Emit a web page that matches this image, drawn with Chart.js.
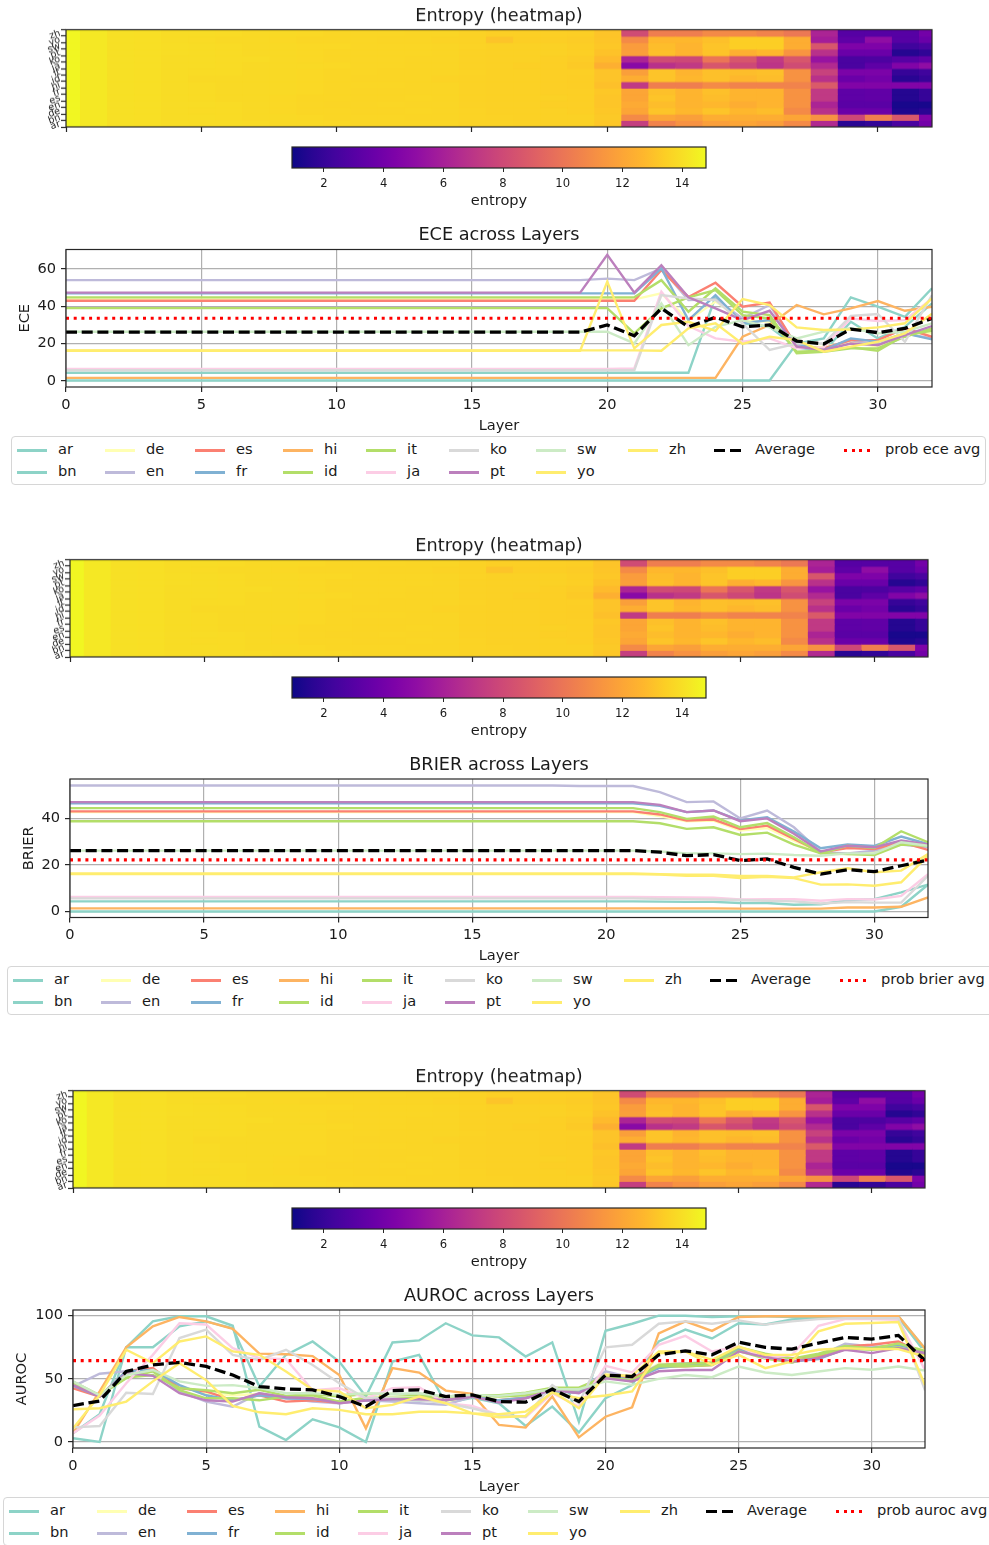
<!DOCTYPE html>
<html><head><meta charset="utf-8">
<script src="https://cdn.jsdelivr.net/npm/chart.js@4"></script>
<style>
html,body{margin:0;padding:0;background:#fff}
#page{position:relative;width:989px;height:1545px;overflow:hidden;font-family:"DejaVu Sans",sans-serif;color:#1a1a1a}
canvas{position:absolute;left:0}
.legend{position:absolute;box-sizing:border-box;border:1.4px solid #d6d6d6;border-radius:4px;background:#fff;height:49px}
.lg-h{position:absolute;width:30px;height:3px}
.lg-t{position:absolute;font-size:14.6px;line-height:18px;white-space:nowrap}
</style></head><body><div id="page"></div>
<script>
const layers=[0,1,2,3,4,5,6,7,8,9,10,11,12,13,14,15,16,17,18,19,20,21,22,23,24,25,26,27,28,29,30,31,32];
const langs=["ar","bn","de","en","es","fr","hi","id","it","ja","ko","pt","sw","yo","zh"];
const langColors=["#8dd3c7","#8dd3c7","#ffffb3","#bebada","#fb8072","#80b1d3","#fdb462","#b3de69","#b3de69","#fccde5","#d9d9d9","#bc80bd","#ccebc5","#ffed6f","#ffed6f"];

// Entropy per language, layers 0..32
const ent_ar=[14.7,14.3,14.05,14.0,13.95,13.9,13.9,13.85,13.8,13.8,13.75,13.7,13.7,13.7,13.7,13.6,13.6,13.55,13.5,13.5,13.2,7.45,10.6,11.2,11.75,12.0,11.75,10.9,6.5,1.6,1.9,2.6,4.0];
const ent_bn=[14.7,14.3,14.05,14.0,13.9,13.9,13.85,13.8,13.8,13.75,13.7,13.7,13.7,13.65,13.65,13.6,13.55,13.5,13.5,13.5,13.25,10.9,12.0,11.75,12.3,12.3,12.3,12.0,11.2,7.9,10.4,8.7,4.4];
const ent_de=[14.7,14.3,14.05,14.0,13.9,13.85,13.85,13.8,13.75,13.7,13.7,13.65,13.65,13.7,13.65,13.6,13.5,13.5,13.5,13.45,13.2,12.0,13.1,12.7,13.1,12.7,12.9,10.9,6.8,3.7,3.7,1.35,1.6];
const ent_en=[14.7,14.3,14.05,14.0,13.9,13.9,13.85,13.8,13.75,13.7,13.65,13.65,13.7,13.65,13.65,13.55,13.5,13.5,13.45,13.45,13.15,12.2,12.9,12.6,12.7,12.3,12.6,11.2,6.2,3.15,3.15,1.2,1.2];
const ent_es=[14.7,14.3,14.05,14.0,13.9,13.85,13.8,13.8,13.75,13.7,13.7,13.65,13.65,13.7,13.65,13.55,13.5,13.5,13.5,13.45,13.15,12.0,13.1,12.6,12.9,12.6,12.6,11.2,7.2,3.3,3.4,1.5,2.0];
const ent_fr=[14.7,14.3,14.05,14.0,13.9,13.85,13.8,13.8,13.8,13.75,13.7,13.65,13.65,13.65,13.65,13.55,13.5,13.5,13.45,13.45,13.2,12.0,13.0,12.6,13.0,12.6,12.6,11.2,7.2,3.3,3.4,1.5,2.0];
const ent_hi=[14.7,14.3,14.05,14.0,13.9,13.85,13.8,13.8,13.8,13.75,13.7,13.7,13.7,13.65,13.65,13.55,13.5,13.5,13.45,13.4,13.0,7.2,10.4,10.4,10.9,10.6,10.6,10.6,8.8,4.5,4.5,4.5,4.5];
const ent_id=[14.7,14.3,14.05,14.0,13.9,13.8,13.8,13.8,13.8,13.75,13.7,13.65,13.65,13.65,13.6,13.55,13.5,13.5,13.45,13.4,13.1,12.3,13.1,12.7,13.0,12.7,12.9,11.2,6.8,3.7,4.0,1.6,2.0];
const ent_it=[14.7,14.3,14.05,14.0,13.9,13.85,13.85,13.8,13.8,13.75,13.7,13.7,13.65,13.65,13.65,13.6,13.5,13.5,13.45,13.45,13.1,11.75,13.1,12.6,13.0,12.9,13.0,11.2,7.6,4.3,4.3,2.0,2.3];
const ent_ja=[14.7,14.3,14.05,14.0,13.9,13.9,13.85,13.8,13.8,13.8,13.75,13.7,13.7,13.65,13.65,13.55,13.5,13.45,13.45,13.3,12.4,4.8,6.8,7.2,8.6,7.9,7.0,8.1,6.5,2.6,3.3,4.5,5.1];
const ent_ko=[14.7,14.3,14.05,14.0,13.9,13.9,13.85,13.85,13.8,13.75,13.7,13.7,13.7,13.65,13.65,13.55,13.5,13.5,13.45,13.35,12.8,6.2,8.1,7.9,10.0,8.6,7.2,8.6,5.4,2.6,2.7,3.0,3.4];
const ent_pt=[14.7,14.3,14.05,14.0,13.95,13.9,13.85,13.8,13.8,13.75,13.7,13.7,13.7,13.7,13.65,13.55,13.5,13.5,13.5,13.45,13.05,11.75,13.0,12.6,13.1,12.4,12.7,11.3,6.8,3.7,3.7,1.5,1.8];
const ent_sw=[14.7,14.3,14.05,14.0,13.95,13.9,13.85,13.8,13.8,13.75,13.75,13.7,13.7,13.7,13.65,13.6,13.5,13.5,13.5,13.4,13.2,11.6,12.9,12.6,13.1,13.4,13.4,12.3,8.6,4.4,4.4,2.3,2.6];
const ent_yo=[14.7,14.3,14.05,14.0,13.9,13.85,13.8,13.8,13.75,13.7,13.7,13.7,13.65,13.65,13.6,13.55,13.1,13.4,13.4,13.35,13.15,10.9,12.7,12.7,13.0,13.4,13.4,12.3,5.9,3.3,5.1,3.0,3.7];
const ent_zh=[14.7,14.3,14.05,14.0,13.9,13.9,13.85,13.8,13.8,13.75,13.7,13.7,13.7,13.65,13.65,13.55,13.45,13.45,13.45,13.4,13.1,8.1,10.4,10.4,10.9,10.9,10.6,10.1,6.2,3.0,3.0,3.0,4.0];
const entropyRows=[ent_ar,ent_bn,ent_de,ent_en,ent_es,ent_fr,ent_hi,ent_id,ent_it,ent_ja,ent_ko,ent_pt,ent_sw,ent_yo,ent_zh];
const colorbarTicks=[2,4,6,8,10,12,14];
const entropyMin=0.93, entropyMax=14.8;

// ECE
const ece_ar=[4.4,4.4,4.4,4.4,4.4,4.4,4.4,4.4,4.4,4.4,4.4,4.4,4.4,4.4,4.4,4.4,4.4,4.4,4.4,4.4,4.4,4.4,4.4,4.4,45.1,30.9,29,18,15.7,31.7,22.8,29,41.6];
const ece_bn=[0.3,0.3,0.3,0.3,0.3,0.3,0.3,0.3,0.3,0.3,0.3,0.3,0.3,0.3,0.3,0.3,0.3,0.3,0.3,0.3,0.3,0.3,0.3,0.3,0.3,0.3,0.3,20.1,22.8,44.8,39.8,34.4,49.6];
const ece_de=[43.7,43.7,43.7,43.7,43.7,43.7,43.7,43.7,43.7,43.7,43.7,43.7,43.7,43.7,43.7,43.7,43.7,43.7,43.7,43.7,43.7,43.7,46.9,32.6,42.5,32.6,31.7,18,18.4,21,18.4,25.5,25.5];
const ece_en=[54,54,54,54,54,54,54,54,54,54,54,54,54,54,54,54,54,54,54,54,54.8,54,60.3,43.4,43.7,33.5,40.7,18.7,17.5,21.9,19.2,25.5,22.8];
const ece_es=[43,43,43,43,43,43,43,43,43,43,43,43,43,43,43,43,43,43,43,43,43,43,59.4,45,52.6,39.8,42,18.4,17.5,21.9,21.9,28.2,23.7];
const ece_fr=[46.9,46.9,46.9,46.9,46.9,46.9,46.9,46.9,46.9,46.9,46.9,46.9,46.9,46.9,46.9,46.9,46.9,46.9,46.9,46.9,46.9,46.9,60.3,32.6,46,30.9,32.6,20,16.6,22.8,21,25.5,22.3];
const ece_hi=[1.7,1.7,1.7,1.7,1.7,1.7,1.7,1.7,1.7,1.7,1.7,1.7,1.7,1.7,1.7,1.7,1.7,1.7,1.7,1.7,1.7,1.7,1.7,1.7,1.7,23.7,30,40.7,35.7,38.9,42.8,37.6,39.8];
const ece_id=[39,39,39,39,39,39,39,39,39,39,39,39,39,39,39,39,39,39,39,39,39,25.5,38.9,44.8,48.7,35.3,33.5,15.7,16.2,18,16.2,24.6,26.9];
const ece_it=[44.8,44.8,44.8,44.8,44.8,44.8,44.8,44.8,44.8,44.8,44.8,44.8,44.8,44.8,44.8,44.8,44.8,44.8,44.8,44.8,44.8,44.8,54,37.1,49.6,37.1,35.3,14.8,15.7,17.5,17.5,23.7,28.2];
const ece_ja=[6.4,6.4,6.4,6.4,6.4,6.4,6.4,6.4,6.4,6.4,6.4,6.4,6.4,6.4,6.4,6.4,6.4,6.4,6.4,6.4,6.4,6.7,47.8,29.4,22.8,21,22.8,17.5,18,33.5,32.1,32.6,44.2];
const ece_ko=[5.8,5.8,5.8,5.8,5.8,5.8,5.8,5.8,5.8,5.8,5.8,5.8,5.8,5.8,5.8,5.8,5.8,5.8,5.8,5.8,5.8,5.8,46,44.2,43.4,30.9,16.6,20.1,20.1,34.8,35.9,21,46];
const ece_pt=[47.3,47.3,47.3,47.3,47.3,47.3,47.3,47.3,47.3,47.3,47.3,47.3,47.3,47.3,47.3,47.3,47.3,47.3,47.3,47.3,67.5,47.3,62,44.8,38.9,32.6,37.6,18.4,16.6,20.1,19.2,24.6,29.4];
const ece_sw=[26.4,26.4,26.4,26.4,26.4,26.4,26.4,26.4,26.4,26.4,26.4,26.4,26.4,26.4,26.4,26.4,26.4,26.4,26.4,26.4,26.4,20.1,41.6,19.2,29,32.6,28.7,22.8,26.4,28.2,25.5,26.4,30.9];
const ece_yo=[16.2,16.2,16.2,16.2,16.2,16.2,16.2,16.2,16.2,16.2,16.2,16.2,16.2,16.2,16.2,16.2,16.2,16.2,16.2,16.2,53.2,17.5,30,31.7,26.9,43.9,40.7,28.7,27.3,27.6,28.7,30.9,44.2];
const ece_zh=[16.4,16.4,16.4,16.4,16.4,16.4,16.4,16.4,16.4,16.4,16.4,16.4,16.4,16.4,16.4,16.4,16.4,16.4,16.4,16.4,16.4,16.4,16.2,28.2,30.9,19.8,23.7,21.9,15.7,18.4,21,25.5,36];
const ece_avg=[26.2,26.2,26.2,26.2,26.2,26.2,26.2,26.2,26.2,26.2,26.2,26.2,26.2,26.2,26.2,26.2,26.2,26.2,26.2,26.2,30,24.2,38.9,29,34.1,29,30,21.4,19.8,27.8,25.9,28.2,33.5];
const ece_prob=33.6;
const eceTicks=[0,20,40,60];

// BRIER
const brier_ar=[4.4,4.4,4.4,4.4,4.4,4.4,4.4,4.4,4.4,4.4,4.4,4.4,4.4,4.4,4.4,4.4,4.4,4.4,4.4,4.4,4.4,4.4,4.3,4.2,4.2,3.7,3.7,3,3.2,5,5.4,8.3,11.6];
const brier_bn=[0.1,0.1,0.1,0.1,0.1,0.1,0.1,0.1,0.1,0.1,0.1,0.1,0.1,0.1,0.1,0.1,0.1,0.1,0.1,0.1,0.1,0.1,0.1,0.1,0.1,0.1,0.1,0.1,0.1,0.1,0.1,2.1,11.6];
const brier_de=[42.7,42.7,42.7,42.7,42.7,42.7,42.7,42.7,42.7,42.7,42.7,42.7,42.7,42.7,42.7,42.7,42.7,42.7,42.7,42.7,42.7,42.7,41,38.8,39.1,34.8,35.9,30.5,25.5,24.7,25.5,29.3,27.9];
const brier_en=[54.1,54.1,54.1,54.1,54.1,54.1,54.1,54.1,54.1,54.1,54.1,54.1,54.1,54.1,54.1,54.1,54.1,54.1,54.1,53.9,53.9,53.9,51.3,47,47.3,40,43.4,36.2,25.5,25,26.2,28.8,27.6];
const brier_es=[43,43,43,43,43,43,43,43,43,43,43,43,43,43,43,43,43,43,43,43,43,43,41.7,39.1,39.5,35.4,36.9,31.2,25.5,27.3,26.9,29.8,26.5];
const brier_fr=[46.5,46.5,46.5,46.5,46.5,46.5,46.5,46.5,46.5,46.5,46.5,46.5,46.5,46.5,46.5,46.5,46.5,46.5,46.5,46.5,46.5,46.5,45.4,42.7,43.4,39.1,40.5,34.4,27.2,28.8,28.2,32.2,29];
const brier_hi=[1.4,1.4,1.4,1.4,1.4,1.4,1.4,1.4,1.4,1.4,1.4,1.4,1.4,1.4,1.4,1.4,1.4,1.4,1.4,1.4,1.4,1.4,1.4,1.4,1.4,1.3,1.3,1.3,1.3,1.8,1.8,2.1,6.1];
const brier_id=[38.8,38.8,38.8,38.8,38.8,38.8,38.8,38.8,38.8,38.8,38.8,38.8,38.8,38.8,38.8,38.8,38.8,38.8,38.8,38.8,38.8,38.8,37.9,35.5,36.2,32.9,33.9,28.8,25,24.7,24.3,28.8,28.3];
const brier_it=[44.4,44.4,44.4,44.4,44.4,44.4,44.4,44.4,44.4,44.4,44.4,44.4,44.4,44.4,44.4,44.4,44.4,44.4,44.4,44.4,44.4,44.4,42.7,39.8,40.8,36.2,38,31.9,25,28.3,27.3,34.5,29.8];
const brier_ja=[6.3,6.3,6.3,6.3,6.3,6.3,6.3,6.3,6.3,6.3,6.3,6.3,6.3,6.3,6.3,6.3,6.3,6.3,6.3,6.3,6.3,6.3,6.2,6.1,6,5.2,5.4,5.3,4.7,5.4,5.2,6.8,16.1];
const brier_ko=[5.7,5.7,5.7,5.7,5.7,5.7,5.7,5.7,5.7,5.7,5.7,5.7,5.7,5.7,5.7,5.7,5.7,5.7,5.7,5.7,5.7,5.7,5.5,5.4,5.2,5,4.7,4.4,3.5,4.1,3.9,3.9,15.4];
const brier_pt=[47,47,47,47,47,47,47,47,47,47,47,47,47,47,47,47,47,47,47,47,47,47,45.8,42.7,43.4,38.8,40,33.4,25.8,28.3,27.6,30.5,28.8];
const brier_sw=[26.2,26.2,26.2,26.2,26.2,26.2,26.2,26.2,26.2,26.2,26.2,26.2,26.2,26.2,26.2,26.2,26.2,26.2,26.2,26.2,26.2,26.2,25.8,25,25,24.7,24.9,24.3,24,25,25,29.8,28.3];
const brier_yo=[16.1,16.1,16.1,16.1,16.1,16.1,16.1,16.1,16.1,16.1,16.1,16.1,16.1,16.1,16.1,16.1,16.1,16.1,16.1,16.1,16.1,16.1,15.9,15.4,15.4,14.4,15,14.4,11.6,11.7,11.1,12.6,24];
const brier_zh=[16.4,16.4,16.4,16.4,16.4,16.4,16.4,16.4,16.4,16.4,16.4,16.4,16.4,16.4,16.4,16.4,16.4,16.4,16.4,16.4,16.4,16.4,16.1,15.9,15.9,15.3,15.3,14.7,16.9,18.6,16.9,17.6,24.7];
const brier_avg=[26.2,26.2,26.2,26.2,26.2,26.2,26.2,26.2,26.2,26.2,26.2,26.2,26.2,26.2,26.2,26.2,26.2,26.2,26.2,26.2,26.2,26.2,25.5,24,24.5,21.9,22.6,19,16.1,18,17.2,19.7,22.2];
const brier_prob=22.2;
const brierTicks=[0,20,40];

// AUROC
const auroc_ar=[7,22,75,75,91.5,95.5,90,44,69,79.6,63.7,36,78.8,80.4,94,84.4,82.8,67.7,78.8,16,88,93.6,100,100,99,99.5,99.5,99,99,99.5,99.5,99.5,74];
const auroc_bn=[3,0,75,95.5,99.5,99.5,92,12.2,1.6,18,11.6,0,63.7,69,30.7,35,30.7,12.7,28,7.6,34.6,45,79.6,89,82,94,93,97,98.5,99,99,98.5,71];
const auroc_de=[46,37,55,57,44,38,37,38,36,35,32,33,33,33,32,36,33,35,41,39,54,50,62,62,63,72,68,63,69,75,74,76,73];
const auroc_en=[44,54,56,56,40,32,28,38.6,34.6,32,30.7,33,32,30.7,29.4,36,32,34.6,41.3,40,56,51,61,62.4,63,74,69,63,68,77.8,75.6,75.6,70];
const auroc_es=[42.6,36,56,58.5,42.6,40,33,37,32,33,31,34,34.7,34,33,36,33,35,41,39,53,50.5,60,60,61,73,69,66.4,67.7,75.6,77,79.6,69];
const auroc_fr=[44.5,36,56,57,45,37,33,37,34.6,34,32,33,34,33,33,36,33,35,40,39,53,49,58.5,61,62.4,73,66.4,63.7,65.6,73.5,74.3,77,71.7];
const auroc_hi=[7,40,75,91.5,99,95.5,89.5,70,69.5,68,53,10.8,58.5,55,40.7,38,13.5,11.4,36,3.7,20,27.5,86,95.5,88,99,99.5,99.5,99.5,99.5,99.5,99.5,74];
const auroc_id=[47,37,50.5,56,41,34.6,34.6,33,36,37,32,35,35,35,36,37,36,37,42,42,51,49,60,60,61,72,66,63,69,74,73,75,68];
const auroc_it=[47.8,37,51,53,42.6,41,38.6,41.3,36.5,38,36,38,38,37,36,37,37,39,43,43,52,48,61,62,63,75,70,66,70,76,74,78,72];
const auroc_ja=[7,21,46.5,69,94,93,74.3,66.4,65.6,41,42.6,34.6,42.6,43.4,30.7,28.6,21.4,19.6,38.6,28,60.3,55,77,84,71.7,75.6,66.4,69,92,97.3,97.3,96.8,57];
const auroc_ko=[11.6,12.7,39,38,82.3,88.9,69,65,73,61,46.5,34.6,34.6,33.3,30.7,26.7,21.4,20,45,30.7,75,77,93.6,95.5,93.6,96.3,92.9,95.5,97.3,98,98,98,41];
const auroc_pt=[45,36,54.5,52.4,38.6,33,32,38.6,35.4,34.6,30.7,32.8,33.8,33.8,33.3,36,31.2,34.6,41.3,38.6,50.5,47.9,56,57,57,71.7,67.2,63.7,66.4,73,70.4,74.3,70.4];
const auroc_sw=[48,37,53,57,48,44.4,45,42.6,38.6,38.6,37.3,38.6,38,38.6,36,37.3,36.5,38.6,41.8,41.8,48,45.2,50,53,51.3,59.8,55,53,55.8,58.5,57.2,59.8,56.6];
const auroc_yo=[25.9,26.7,32,48,62.4,49,28.6,23.5,22,26.7,25.4,22,22,24,24,22.7,22,24,39,34.6,36.8,40,70.3,71.7,61,69,58.5,63.7,87.6,93.6,94.2,95,45];
const auroc_zh=[10.8,37,73,62.4,79.6,83.6,71.7,69,55.8,41.3,40,26.7,29.4,36,30.7,22.7,19.6,20.6,40,26.7,53,52.4,71.7,71.7,65,75.6,69,69,73,74.3,73.5,73.5,67.7];
const auroc_avg=[28.8,32.5,55.8,61,63,59.8,53,43.9,42,41.3,36,28,40.7,41.3,36,37.3,32,31.5,41.8,32,53,51.8,69,72.2,69,79,74.9,73.5,78.3,82.8,81.5,84.4,64.5];
const auroc_prob=64.5;
const aurocTicks=[0,50,100];

const eceSeries=[ece_ar,ece_bn,ece_de,ece_en,ece_es,ece_fr,ece_hi,ece_id,ece_it,ece_ja,ece_ko,ece_pt,ece_sw,ece_yo,ece_zh];
const brierSeries=[brier_ar,brier_bn,brier_de,brier_en,brier_es,brier_fr,brier_hi,brier_id,brier_it,brier_ja,brier_ko,brier_pt,brier_sw,brier_yo,brier_zh];
const aurocSeries=[auroc_ar,auroc_bn,auroc_de,auroc_en,auroc_es,auroc_fr,auroc_hi,auroc_id,auroc_it,auroc_ja,auroc_ko,auroc_pt,auroc_sw,auroc_yo,auroc_zh];

// ---- styling / rendering ----
const FONT='"DejaVu Sans", sans-serif';
const INK='#1a1a1a', SPINE='#262626', GRID='#b0b0b0';
const TITLE_PX=17.7, LABEL_PX=14.6;
const plasmaStops=['#0d0887','#2a0593','#41049d','#5601a4','#6a00a8','#7e03a8','#8f0da4','#a11b9b','#b12a90','#bf3984','#cc4778','#d6556d','#e16462','#ea7457','#f1844b','#f89540','#fca636','#feb72d','#fcce25','#f7e225','#f0f921'];
function hex2rgb(h){return [1,3,5].map(i=>parseInt(h.substr(i,2),16));}
function plasma(t){t=Math.max(0,Math.min(1,t));const p=t*(plasmaStops.length-1),i=Math.min(Math.floor(p),plasmaStops.length-2),f=p-i;
  const a=hex2rgb(plasmaStops[i]),b=hex2rgb(plasmaStops[i+1]);return `rgb(${a.map((v,k)=>Math.round(v+(b[k]-v)*f)).join(',')})`;}
const entropyColor=v=>plasma((v-entropyMin)/(entropyMax-entropyMin));
const frame={id:'frame',afterDraw(c){const a=c.chartArea,x=c.ctx;x.save();x.strokeStyle=SPINE;x.lineWidth=1.2;x.strokeRect(a.left,a.top,a.right-a.left,a.bottom-a.top);x.restore();}};
const page=document.getElementById('page');
function addCanvas(top,h){const c=document.createElement('canvas');c.width=989;c.height=h;c.style.top=top+'px';c.style.width='989px';c.style.height=h+'px';page.appendChild(c);return c;}
const fixW=w=>s=>{s.width=w;}, fixH=h=>s=>{s.height=h;};
const titleOpts=(text,pad)=>({display:true,text,fullSize:false,color:INK,font:{family:FONT,size:TITLE_PX,weight:'normal',lineHeight:1.2},padding:{top:0,bottom:pad}});

function heatmap(g){
  const titleH=TITLE_PX*1.2, cTop=g.titleY-Math.round(titleH/2), xH=10, h=g.bottom-cTop+xH;
  const c=addCanvas(cTop,h);
  const datasets=layers.map((l,k)=>({label:'Layer '+l,
    data:langs.map(()=>[l-0.5,l+0.5]),
    backgroundColor:entropyRows.map(r=>entropyColor(r[k])),
    borderWidth:0,inflateAmount:0.5,barPercentage:1,categoryPercentage:1,grouped:false}));
  new Chart(c,{type:'bar',data:{labels:langs,datasets},plugins:[frame],options:{
    responsive:false,animation:false,indexAxis:'y',
    layout:{padding:{left:g.left-32,right:989-g.right,top:0,bottom:0}},
    plugins:{legend:{display:false},tooltip:{enabled:false},title:titleOpts('Entropy (heatmap)',g.top-cTop-titleH)},
    scales:{
      x:{type:'linear',min:0,max:32,afterFit:fixH(xH),grid:{display:true,drawOnChartArea:false,tickLength:5,tickColor:SPINE,tickWidth:1.2},border:{display:false},
         ticks:{stepSize:5,includeBounds:false,callback:()=>'',font:{size:1},padding:0}},
      y:{type:'category',reverse:true,offset:true,afterFit:fixW(32),grid:{display:true,drawOnChartArea:false,tickLength:5,tickColor:SPINE,tickWidth:1.2},border:{display:false},
         ticks:{autoSkip:false,minRotation:20,maxRotation:20,padding:1,color:INK,font:{family:FONT,size:9.6}}}
    }}});
}
function colorbar(top){
  const bottom=top+21, cTop=top-1, xH=42, h=bottom-cTop+xH;
  const c=addCanvas(cTop,h);
  new Chart(c,{type:'bar',data:{labels:['entropy'],datasets:[{label:'entropy',data:[[entropyMin,entropyMax]],borderWidth:0,barPercentage:1,categoryPercentage:1,
    backgroundColor(ctx){const a=ctx.chart.chartArea;if(!a)return '#888';const g=ctx.chart.ctx.createLinearGradient(a.left,0,a.right,0);plasmaStops.forEach((s,i)=>g.addColorStop(i/(plasmaStops.length-1),s));return g;}}]},
    plugins:[frame],options:{responsive:false,animation:false,indexAxis:'y',
    layout:{padding:{left:292,right:989-706,top:1,bottom:0}},
    plugins:{legend:{display:false},tooltip:{enabled:false}},
    scales:{
      x:{type:'linear',min:entropyMin,max:entropyMax,afterFit:fixH(xH),afterBuildTicks:s=>{s.ticks=colorbarTicks.map(v=>({value:v}));},
         grid:{display:true,drawOnChartArea:false,tickLength:4,tickColor:SPINE,tickWidth:1},border:{display:false},
         ticks:{padding:5,color:INK,font:{family:FONT,size:11.6}},
         title:{display:true,text:'entropy',color:INK,padding:0,font:{family:FONT,size:LABEL_PX,lineHeight:1.2}}},
      y:{display:false,offset:true}
    }}});
}
function lineChart(g){
  const titleH=TITLE_PX*1.2, cTop=g.titleY-Math.round(titleH/2), xH=g.layerY+9-g.bottom, h=g.bottom-cTop+xH;
  const c=addCanvas(cTop,h);
  const N=g.series.length;
  const datasets=g.series.map((vals,i)=>({label:langs[i],data:vals.map((y,k)=>({x:layers[k],y})),borderColor:langColors[i],backgroundColor:langColors[i],borderWidth:2.4,pointRadius:0,tension:0,order:N+2-i}));
  datasets.push({label:'Average',data:g.avg.map((y,k)=>({x:layers[k],y})),borderColor:'#000',backgroundColor:'#000',borderWidth:3.3,borderDash:[11,4.7],pointRadius:0,tension:0,order:1});
  datasets.push({label:g.probLabel,data:[{x:layers[0],y:g.prob},{x:layers[layers.length-1],y:g.prob}],borderColor:'#ff0000',backgroundColor:'#ff0000',borderWidth:3.2,borderDash:[3,4.7],pointRadius:0,tension:0,order:0});
  const ch=new Chart(c,{type:'scatter',data:{datasets},plugins:[frame],options:{
    responsive:false,animation:false,showLine:true,
    layout:{padding:{left:g.ylabelX-8.75,right:989-g.right,top:0,bottom:0}},
    plugins:{legend:{display:false},tooltip:{enabled:false},title:titleOpts(g.title,g.top-cTop-titleH)},
    scales:{
      x:{type:'linear',min:0,max:32,afterFit:fixH(xH),afterBuildTicks:s=>{s.ticks=layers.filter(l=>l%5===0).map(v=>({value:v}));},
         grid:{color:GRID,lineWidth:1.2,tickLength:5,tickColor:SPINE,tickWidth:1.2},border:{display:false},
         ticks:{padding:4,maxRotation:0,color:INK,font:{family:FONT,size:LABEL_PX}},
         title:{display:true,text:'Layer',color:INK,padding:0,font:{family:FONT,size:LABEL_PX,lineHeight:1.2}}},
      y:{type:'linear',min:g.ymin,max:g.ymax,afterFit:fixW(g.left-(g.ylabelX-8.75)),afterBuildTicks:s=>{s.ticks=g.ticks.map(v=>({value:v}));},
         grid:{color:GRID,lineWidth:1.2,tickLength:5,tickColor:SPINE,tickWidth:1.2},border:{display:false},
         ticks:{padding:5,color:INK,font:{family:FONT,size:LABEL_PX}},
         title:{display:true,text:g.ylabel,color:INK,padding:0,font:{family:FONT,size:LABEL_PX,lineHeight:1.2}}}
    }}});
  htmlLegend(ch,g.legendLeft,g.legendTop,g.legendW);
}
const legendCols=[4.6,92.6,182.6,270.6,353.6,436.6,523.6,615.6,701.6,831.6];
function htmlLegend(ch,left,top,w){
  const box=document.createElement('div');box.className='legend';box.style.left=left+'px';box.style.top=top+'px';box.style.width=w+'px';
  const perCol=[2,2,2,2,2,2,2,1,1,1];let k=0;
  perCol.forEach((n,col)=>{for(let r=0;r<n;r++,k++){
    const d=ch.data.datasets[k];const cy=r?34:12;
    const h=document.createElement('div');h.className='lg-h';h.style.left=legendCols[col]+'px';h.style.top=(cy-0.5)+'px';
    if(d.borderDash){const[a,b]=d.borderDash;h.style.background=`repeating-linear-gradient(90deg,${d.borderColor} 0 ${a}px,transparent ${a}px ${a+b}px)`;}
    else h.style.background=d.borderColor;
    const t=document.createElement('div');t.className='lg-t';t.style.left=(legendCols[col]+41.5)+'px';t.style.top=(cy-9)+'px';t.textContent=d.label;
    box.appendChild(h);box.appendChild(t);
  }});
  page.appendChild(box);
}
heatmap({titleY:17,top:29.5,bottom:126.5,left:66,right:932});
colorbar(147);
lineChart({title:'ECE across Layers',titleY:236,top:249.5,bottom:387,left:66,right:932,layerY:426,ylabelX:25,ylabel:'ECE',ymin:-3.2,ymax:70.4,ticks:eceTicks,series:eceSeries,avg:ece_avg,prob:ece_prob,probLabel:'prob ece avg',legendLeft:11,legendTop:436,legendW:975});
heatmap({titleY:547,top:559.5,bottom:656.5,left:70,right:928});
colorbar(677);
lineChart({title:'BRIER across Layers',titleY:766,top:779,bottom:917.5,left:70,right:928,layerY:956,ylabelX:29,ylabel:'BRIER',ymin:-2.5,ymax:56.9,ticks:brierTicks,series:brierSeries,avg:brier_avg,prob:brier_prob,probLabel:'prob brier avg',legendLeft:7,legendTop:966,legendW:990});
heatmap({titleY:1078,top:1090.5,bottom:1187.5,left:73,right:925});
colorbar(1208);
lineChart({title:'AUROC across Layers',titleY:1297,top:1310,bottom:1448,left:73,right:925,layerY:1487,ylabelX:22,ylabel:'AUROC',ymin:-4.75,ymax:104.5,ticks:aurocTicks,series:aurocSeries,avg:auroc_avg,prob:auroc_prob,probLabel:'prob auroc avg',legendLeft:3,legendTop:1497,legendW:1000});
</script></body></html>
